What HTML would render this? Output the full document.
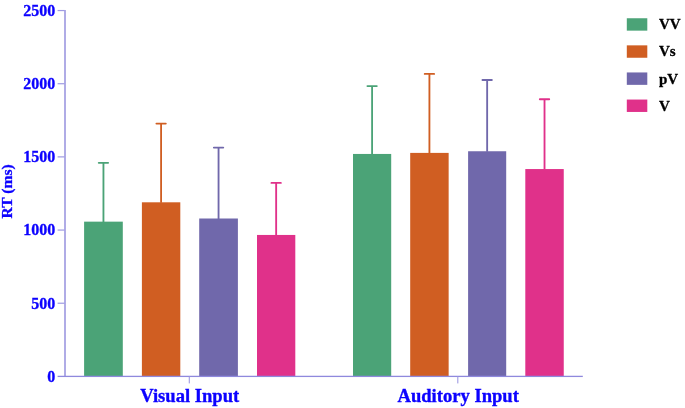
<!DOCTYPE html>
<html lang="en">
<head>
<meta charset="utf-8">
<title>RT (ms) by input modality</title>
<style>
html,body{margin:0;padding:0;background:#fff;}
body{width:685px;height:408px;overflow:hidden;font-family:"Liberation Serif","Times New Roman",serif;}
svg{display:block;}
text{font-family:"Liberation Serif","Times New Roman",serif;font-weight:bold;}
.yl{font-size:16px;fill:#0c02ff;stroke:#0c02ff;stroke-width:0.3px;text-anchor:end;}
.xl{font-size:18.6px;fill:#0c02ff;stroke:#0c02ff;stroke-width:0.35px;text-anchor:middle;}
.lg{font-size:15px;fill:#000;stroke:#000;stroke-width:0.3px;}
</style>
</head>
<body>
<svg width="685" height="408" viewBox="0 0 685 408">
<rect x="0" y="0" width="685" height="408" fill="#ffffff"/>

<rect x="84.10" y="221.65" width="38.70" height="154.35" fill="#4ba377"/>
<line x1="103.45" y1="222.15" x2="103.45" y2="162.85" stroke="#4ba377" stroke-width="1.85"/>
<line x1="98.75" y1="162.85" x2="108.15" y2="162.85" stroke="#4ba377" stroke-width="1.85" stroke-linecap="round"/>
<rect x="141.90" y="202.30" width="38.40" height="173.70" fill="#d05e22"/>
<line x1="161.10" y1="202.80" x2="161.10" y2="123.60" stroke="#d05e22" stroke-width="1.85"/>
<line x1="156.40" y1="123.60" x2="165.80" y2="123.60" stroke="#d05e22" stroke-width="1.85" stroke-linecap="round"/>
<rect x="199.20" y="218.50" width="38.70" height="157.50" fill="#7068ab"/>
<line x1="218.55" y1="219.00" x2="218.55" y2="147.60" stroke="#7068ab" stroke-width="1.85"/>
<line x1="213.85" y1="147.60" x2="223.25" y2="147.60" stroke="#7068ab" stroke-width="1.85" stroke-linecap="round"/>
<rect x="257.00" y="234.95" width="38.30" height="141.05" fill="#e0318a"/>
<line x1="276.15" y1="235.45" x2="276.15" y2="182.90" stroke="#e0318a" stroke-width="1.85"/>
<line x1="271.45" y1="182.90" x2="280.85" y2="182.90" stroke="#e0318a" stroke-width="1.85" stroke-linecap="round"/>
<rect x="353.00" y="153.95" width="38.20" height="222.05" fill="#4ba377"/>
<line x1="372.10" y1="154.45" x2="372.10" y2="86.10" stroke="#4ba377" stroke-width="1.85"/>
<line x1="367.40" y1="86.10" x2="376.80" y2="86.10" stroke="#4ba377" stroke-width="1.85" stroke-linecap="round"/>
<rect x="410.20" y="152.90" width="38.45" height="223.10" fill="#d05e22"/>
<line x1="429.42" y1="153.40" x2="429.42" y2="73.90" stroke="#d05e22" stroke-width="1.85"/>
<line x1="424.72" y1="73.90" x2="434.12" y2="73.90" stroke="#d05e22" stroke-width="1.85" stroke-linecap="round"/>
<rect x="468.10" y="151.25" width="38.10" height="224.75" fill="#7068ab"/>
<line x1="487.15" y1="151.75" x2="487.15" y2="80.00" stroke="#7068ab" stroke-width="1.85"/>
<line x1="482.45" y1="80.00" x2="491.85" y2="80.00" stroke="#7068ab" stroke-width="1.85" stroke-linecap="round"/>
<rect x="525.30" y="169.05" width="38.45" height="206.95" fill="#e0318a"/>
<line x1="544.52" y1="169.55" x2="544.52" y2="99.20" stroke="#e0318a" stroke-width="1.85"/>
<line x1="539.82" y1="99.20" x2="549.23" y2="99.20" stroke="#e0318a" stroke-width="1.85" stroke-linecap="round"/>
<rect x="64.0" y="10" width="2" height="367" fill="#b0ace6"/>
<rect x="57.6" y="375.75" width="525.2" height="1.3" fill="#8f89dd"/>
<rect x="57.6" y="302.63" width="7" height="1.2" fill="#9f9be2"/>
<rect x="57.6" y="229.46" width="7" height="1.2" fill="#9f9be2"/>
<rect x="57.6" y="156.29" width="7" height="1.2" fill="#9f9be2"/>
<rect x="57.6" y="83.12" width="7" height="1.2" fill="#9f9be2"/>
<rect x="57.6" y="9.95" width="7" height="1.2" fill="#9f9be2"/>
<rect x="188.75" y="376.5" width="1.1" height="6.9" fill="#9f9be2"/>
<rect x="457.25" y="376.5" width="1.1" height="6.9" fill="#9f9be2"/>
<text class="yl" x="55.2" y="381.80">0</text>
<text class="yl" x="55.2" y="308.63">500</text>
<text class="yl" x="55.2" y="235.46">1000</text>
<text class="yl" x="55.2" y="162.29">1500</text>
<text class="yl" x="55.2" y="89.12">2000</text>
<text class="yl" x="55.2" y="15.95">2500</text>
<text transform="translate(12.4,191.3) rotate(-90)" style="font-size:15.6px;fill:#0c02ff;stroke:#0c02ff;stroke-width:0.3px;text-anchor:middle;">RT (ms)</text>
<text class="xl" x="189.7" y="401.6">Visual Input</text>
<text class="xl" x="458.2" y="401.6">Auditory Input</text>
<rect x="626.8" y="18.25" width="20.5" height="12.4" fill="#4ba377"/>
<text class="lg" x="659.0" y="29.30">VV</text>
<rect x="626.8" y="45.35" width="20.5" height="12.4" fill="#d05e22"/>
<text class="lg" x="659.0" y="56.40">Vs</text>
<rect x="626.8" y="72.45" width="20.5" height="12.4" fill="#7068ab"/>
<text class="lg" x="659.0" y="83.50">pV</text>
<rect x="626.8" y="99.55" width="20.5" height="12.4" fill="#e0318a"/>
<text class="lg" x="659.0" y="110.60">V</text>
</svg>
</body>
</html>
